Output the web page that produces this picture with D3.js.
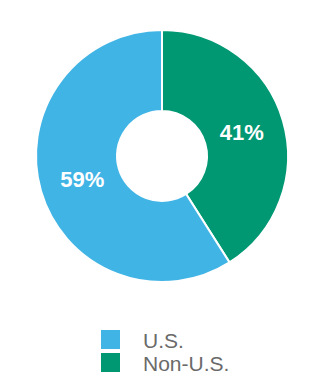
<!DOCTYPE html>
<html>
<head>
<meta charset="utf-8">
<script src="https://cdn.jsdelivr.net/npm/d3@7"></script>
<style>
  body { margin: 0; background: #fff; }
  svg { display: block; }
</style>
</head>
<body>
<svg id="chart" width="324" height="380"></svg>
<script>
const categories = ["U.S.", "Non-U.S."];
const shares = [59, 41];
const colors = ["#41b4e6", "#009873"];

// clockwise from 12 o'clock the green slice comes first
const drawOrder = [1, 0];

const width = 324;
const height = 380;
const cx = 162, cy = 156;
const outerR = 126, innerR = 45;

const svg = d3.select("#chart");
const g = svg.append("g")
    .attr("transform", `translate(${cx},${cy})`);

const slices = drawOrder.map(i => ({cat: categories[i], value: shares[i], color: colors[i]}));

const pie = d3.pie()
    .sort(null)
    .value(d => d.value);

const arc = d3.arc()
    .innerRadius(innerR)
    .outerRadius(outerR);

const labelArc = d3.arc()
    .innerRadius(83)
    .outerRadius(83);

const arcs = pie(slices);

g.selectAll("path")
    .data(arcs)
    .enter()
    .append("path")
    .attr("d", arc)
    .attr("fill", d => d.data.color)
    .attr("stroke", "#fff")
    .attr("stroke-width", 2);

g.selectAll("text.pct")
    .data(arcs)
    .enter()
    .append("text")
    .attr("class", "pct")
    .attr("x", d => labelArc.centroid(d)[0])
    .attr("y", d => labelArc.centroid(d)[1])
    .attr("text-anchor", "middle")
    .attr("dominant-baseline", "central")
    .style("font-family", "'Liberation Sans', Arial, sans-serif")
    .style("font-weight", "bold")
    .style("font-size", "22px")
    .attr("fill", "#fff")
    .text(d => d.data.value + "%");

// Legend
const legend = svg.append("g")
    .attr("transform", "translate(101,330)");

const rows = legend.selectAll("g")
    .data(categories)
    .enter()
    .append("g")
    .attr("transform", (d, i) => `translate(0,${i * 23})`);

rows.append("rect")
    .attr("width", 19)
    .attr("height", 19)
    .attr("fill", (d, i) => colors[i]);

rows.append("text")
    .attr("x", 42)
    .attr("y", 18)
    .style("font-family", "'Liberation Sans', Arial, sans-serif")
    .style("font-size", "21px")
    .attr("fill", "#6a6a6a")
    .text(d => d);
</script>
</body>
</html>
